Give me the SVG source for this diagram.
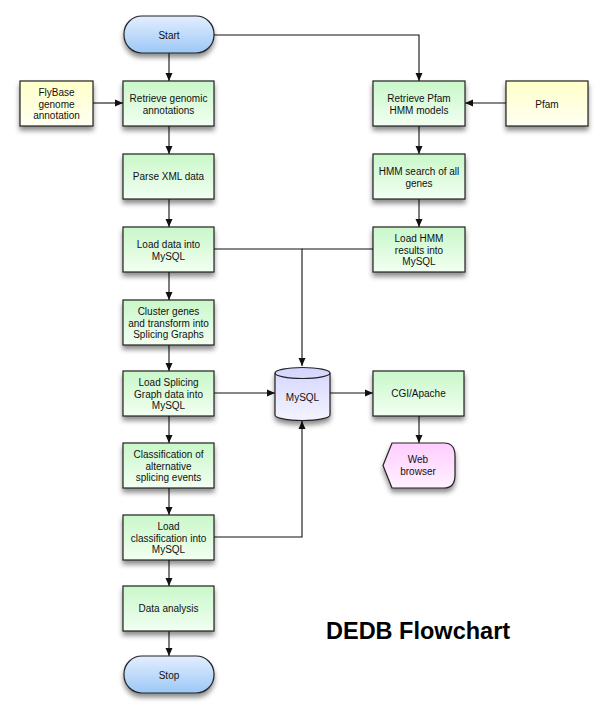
<svg xmlns="http://www.w3.org/2000/svg" width="609" height="717" viewBox="0 0 609 717">
<defs>
<linearGradient id="gGreen" x1="0" y1="0" x2="0" y2="1"><stop offset="0" stop-color="#c9f7c9"/><stop offset="1" stop-color="#f2fff2"/></linearGradient>
<linearGradient id="gYellow" x1="0" y1="0" x2="0" y2="1"><stop offset="0" stop-color="#ffffc8"/><stop offset="1" stop-color="#fffff2"/></linearGradient>
<linearGradient id="gBlue" x1="0" y1="0" x2="0" y2="1"><stop offset="0" stop-color="#e4eeff"/><stop offset="1" stop-color="#9cc8f6"/></linearGradient>
<linearGradient id="gLav" x1="0" y1="0" x2="0" y2="1"><stop offset="0" stop-color="#d4d4ff"/><stop offset="1" stop-color="#f4f4ff"/></linearGradient>
<linearGradient id="gPink" x1="0" y1="0" x2="0" y2="1"><stop offset="0" stop-color="#ffccff"/><stop offset="1" stop-color="#fff2ff"/></linearGradient>
<filter id="sh" x="-20%" y="-20%" width="140%" height="160%"><feDropShadow dx="0" dy="4" stdDeviation="2.5" flood-color="#000" flood-opacity="0.45"/></filter>
<marker id="ah" markerWidth="8" markerHeight="8" refX="8" refY="4" orient="auto" markerUnits="userSpaceOnUse"><path d="M0,0.5 L8,4 L0,7.5 Z" fill="#111"/></marker>
<style>
.box{stroke:#222;stroke-width:1.2;filter:url(#sh)}
.g{fill:url(#gGreen)}
.y{fill:url(#gYellow)}
.b{fill:url(#gBlue)}
.l{fill:url(#gLav)}
.p{fill:url(#gPink)}
.t{font-family:"Liberation Sans",Arial,Helvetica,sans-serif;font-size:10px;fill:#111;text-anchor:middle}
.c{fill:none;stroke:#111;stroke-width:1.1}
.ttl{font-family:"Liberation Sans",Arial,Helvetica,sans-serif;font-size:23.5px;font-weight:bold;fill:#000}
</style>
</defs>
<rect width="609" height="717" fill="#fff"/>
<g id="connectors">
<path class="c" d="M169,53 V81" marker-end="url(#ah)"/>
<path class="c" d="M93,103 H123" marker-end="url(#ah)"/>
<path class="c" d="M169,126 V154" marker-end="url(#ah)"/>
<path class="c" d="M169,199 V227" marker-end="url(#ah)"/>
<path class="c" d="M169,272 V300" marker-end="url(#ah)"/>
<path class="c" d="M169,345 V371" marker-end="url(#ah)"/>
<path class="c" d="M169,416 V443" marker-end="url(#ah)"/>
<path class="c" d="M169,488 V515" marker-end="url(#ah)"/>
<path class="c" d="M169,560 V586" marker-end="url(#ah)"/>
<path class="c" d="M169,631 V656" marker-end="url(#ah)"/>
<path class="c" d="M214,35 H419 V81" marker-end="url(#ah)"/>
<path class="c" d="M506,103 H465" marker-end="url(#ah)"/>
<path class="c" d="M419,126 V154" marker-end="url(#ah)"/>
<path class="c" d="M419,199 V227" marker-end="url(#ah)"/>
<path class="c" d="M214,249 H302 V366" marker-end="url(#ah)"/>
<path class="c" d="M373,249 H302"/>
<path class="c" d="M214,393 H275" marker-end="url(#ah)"/>
<path class="c" d="M330,393 H373" marker-end="url(#ah)"/>
<path class="c" d="M419,416 V443" marker-end="url(#ah)"/>
<path class="c" d="M214,537 H302 V421" marker-end="url(#ah)"/>
</g>
<g id="start"><rect class="box b" x="124" y="16" width="90" height="37" rx="18" ry="18"/><text class="t" x="169" y="38.5">Start</text></g>
<g id="flybase"><rect class="box y" x="20" y="81" width="73" height="45"/><text class="t" x="56.5" y="96">FlyBase</text><text class="t" x="56.5" y="107.5">genome</text><text class="t" x="56.5" y="119">annotation</text></g>
<g id="retrieve-genomic"><rect class="box g" x="123" y="81" width="91" height="45"/><text class="t" x="168.5" y="102">Retrieve genomic</text><text class="t" x="168.5" y="113.5">annotations</text></g>
<g id="parse-xml"><rect class="box g" x="123" y="154" width="91" height="45"/><text class="t" x="168.5" y="180">Parse XML data</text></g>
<g id="load-data"><rect class="box g" x="123" y="227" width="91" height="45"/><text class="t" x="168.5" y="248">Load data into</text><text class="t" x="168.5" y="259.5">MySQL</text></g>
<g id="cluster"><rect class="box g" x="123" y="300" width="91" height="45"/><text class="t" x="168.5" y="315">Cluster genes</text><text class="t" x="168.5" y="326.5">and transform into</text><text class="t" x="168.5" y="338">Splicing Graphs</text></g>
<g id="load-splicing"><rect class="box g" x="123" y="371" width="91" height="45"/><text class="t" x="168.5" y="386">Load Splicing</text><text class="t" x="168.5" y="397.5">Graph data into</text><text class="t" x="168.5" y="409">MySQL</text></g>
<g id="classification"><rect class="box g" x="123" y="443" width="91" height="45"/><text class="t" x="168.5" y="458">Classification of</text><text class="t" x="168.5" y="469.5">alternative</text><text class="t" x="168.5" y="481">splicing events</text></g>
<g id="load-classification"><rect class="box g" x="123" y="515" width="91" height="45"/><text class="t" x="168.5" y="530">Load</text><text class="t" x="168.5" y="541.5">classification into</text><text class="t" x="168.5" y="553">MySQL</text></g>
<g id="data-analysis"><rect class="box g" x="123" y="586" width="91" height="45"/><text class="t" x="168.5" y="612">Data analysis</text></g>
<g id="stop"><rect class="box b" x="124" y="656" width="90" height="37" rx="18" ry="18"/><text class="t" x="169" y="678.5">Stop</text></g>
<g id="retrieve-pfam"><rect class="box g" x="373" y="81" width="92" height="45"/><text class="t" x="419" y="102">Retrieve Pfam</text><text class="t" x="419" y="113.5">HMM models</text></g>
<g id="pfam"><rect class="box y" x="506" y="81" width="82" height="45"/><text class="t" x="547" y="107.5">Pfam</text></g>
<g id="hmm-search"><rect class="box g" x="373" y="154" width="92" height="45"/><text class="t" x="419" y="175">HMM search of all</text><text class="t" x="419" y="186.5">genes</text></g>
<g id="load-hmm"><rect class="box g" x="373" y="227" width="92" height="45"/><text class="t" x="419" y="242">Load HMM</text><text class="t" x="419" y="253.5">results into</text><text class="t" x="419" y="265">MySQL</text></g>
<g id="mysql"><path class="box l" d="M275,373 A27.5,5.5 0 0 1 330,373 V415 A27.5,5.5 0 0 1 275,415 Z"/><path d="M275,373 A27.5,5.5 0 0 0 330,373" fill="none" stroke="#222" stroke-width="1.2"/><text class="t" x="302.5" y="401">MySQL</text></g>
<g id="cgi-apache"><rect class="box g" x="373" y="371" width="91" height="45"/><text class="t" x="418.5" y="397">CGI/Apache</text></g>
<g id="web-browser"><path class="box p" d="M383,465.5 L392,443 H444 Q455,443 455,456 V475 Q455,488 444,488 H392 Z"/><text class="t" x="418" y="463">Web</text><text class="t" x="418" y="475">browser</text></g>
<text class="ttl" x="326" y="639">DEDB Flowchart</text>
</svg>
